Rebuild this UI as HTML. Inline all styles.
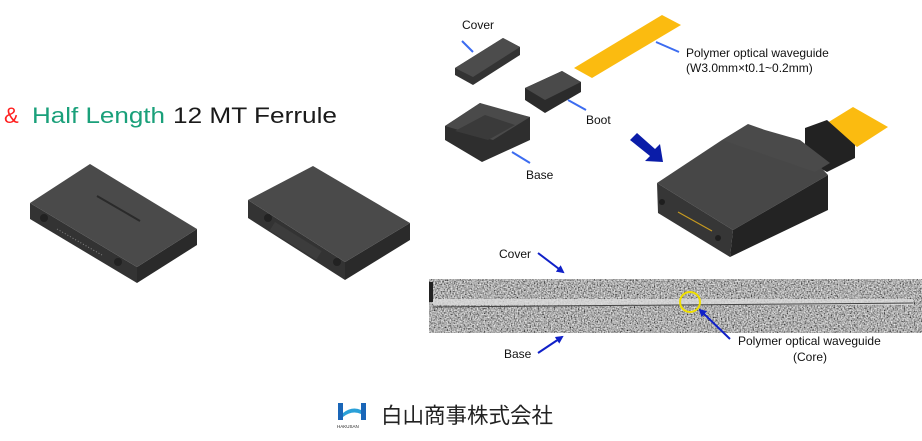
<!DOCTYPE html>
<html><head><meta charset="utf-8"><style>
html,body{margin:0;padding:0;background:#fff;width:922px;height:441px;overflow:hidden}
svg{display:block}
text{font-family:"Liberation Sans",Arial,sans-serif}
</style></head><body>
<svg width="922" height="441" viewBox="0 0 922 441" xmlns="http://www.w3.org/2000/svg">
<defs>
<filter id="n" x="0" y="0" width="100%" height="100%">
<feTurbulence type="fractalNoise" baseFrequency="0.7" numOctaves="2" seed="3"/>
<feColorMatrix type="matrix" values="1.4 0 0 0 -0.28  1.4 0 0 0 -0.28  1.4 0 0 0 -0.28  0 0 0 0 1"/>
</filter>
<marker id="ab" markerWidth="8" markerHeight="8" refX="6" refY="4" orient="auto" markerUnits="userSpaceOnUse"><path d="M0,0 L8,4 L0,8 Z" fill="#1020c8"/></marker>
</defs>

<text x="4" y="123" font-size="22" fill="#ff2020">&amp;</text>
<text x="32" y="123" font-size="22" fill="#1aa07a" textLength="133" lengthAdjust="spacingAndGlyphs">Half Length</text>
<text x="173" y="123" font-size="22" fill="#1a1a1a" textLength="164" lengthAdjust="spacingAndGlyphs">12 MT Ferrule</text>

<!-- ferrule 1 -->
<polygon points="30,203 137,267 137,283 30,219" fill="#333"/>
<polygon points="137,267 197,229 197,245 137,283" fill="#2a2a2a"/>
<polygon points="30,203 90,164 197,229 137,267" fill="#4a4a4a"/>
<circle cx="44" cy="218" r="4" fill="#222"/><circle cx="118" cy="262" r="4" fill="#222"/>
<line x1="57" y1="229" x2="102" y2="255" stroke="#888" stroke-width="1" stroke-dasharray="1,2"/>
<line x1="97" y1="196" x2="140" y2="221" stroke="#2a2a2a" stroke-width="2"/>

<!-- ferrule 2 -->
<polygon points="248,200 345,262 345,280 248,218" fill="#333"/>
<polygon points="345,262 410,223 410,240 345,280" fill="#2a2a2a"/>
<polygon points="248,200 313,166 410,223 345,262" fill="#4a4a4a"/>
<circle cx="268" cy="218" r="4" fill="#222"/><circle cx="337" cy="262" r="4" fill="#222"/>
<rect x="275" y="222" width="55" height="10" fill="#3c3c3c" transform="rotate(32 275 222)"/>

<!-- exploded parts -->
<polygon points="455,68 503,38 520,47 520,55 473,85 455,75" fill="#333"/>
<polygon points="455,68 503,38 520,47 473,77" fill="#4c4c4c"/>
<polygon points="574,68 662,15 681,25 592,78" fill="#fbbb10"/>
<polygon points="525,88 562,71 581,82 581,92 545,113 525,100" fill="#2b2b2b"/>
<polygon points="525,88 562,71 581,82 545,100" fill="#4a4a4a"/>
<polygon points="445,126 480,103 492,108 530,117 530,140 482,162 445,140" fill="#2e2e2e"/>
<polygon points="445,126 480,103 530,117 493,140" fill="#4a4a4a"/>
<polygon points="455,131 485,115 515,125 488,140" fill="#3a3a3a"/>

<text x="462" y="29" font-size="12" fill="#111">Cover</text>
<text x="686" y="57" font-size="12" fill="#111">Polymer optical waveguide</text>
<text x="686" y="72" font-size="12" fill="#111">(W3.0mm×t0.1~0.2mm)</text>
<text x="586" y="124" font-size="12" fill="#111">Boot</text>
<text x="526" y="179" font-size="12" fill="#111">Base</text>
<g stroke="#3c6cf0" stroke-width="2">
<line x1="462" y1="41" x2="473" y2="52"/><line x1="656" y1="42" x2="679" y2="52"/>
<line x1="568" y1="100" x2="586" y2="110"/><line x1="512" y1="152" x2="530" y2="163"/>
</g>
<polygon points="630,140 637,133 655,149 660,144 663,162 645,161 650,156" fill="#0a1ca8"/>

<!-- assembly -->
<polygon points="827,123 853,107 888,127 857,147" fill="#fbbb10"/>
<polygon points="805,128 827,120 855,145 855,158 827,172 805,160" fill="#222"/>
<polygon points="657,183 722,140 798,143 828,175 733,230" fill="#474747"/>
<polygon points="722,140 748,124 765,130 800,140 830,163 815,172" fill="#4a4a4a"/>
<polygon points="657,183 733,230 730,257 658,213" fill="#363636"/>
<polygon points="733,230 828,175 828,210 730,257" fill="#232323"/>
<circle cx="662" cy="202" r="3" fill="#1e1e1e"/><circle cx="718" cy="238" r="3" fill="#1e1e1e"/>
<line x1="678" y1="212" x2="712" y2="231" stroke="#c79a20" stroke-width="1.2"/>

<!-- micrograph -->
<rect x="429" y="279" width="493" height="54" fill="#777"/>
<rect x="429" y="279" width="493" height="54" filter="url(#n)"/>
<rect x="433" y="299" width="480" height="6" fill="#dcdcdc" opacity="0.8"/>
<line x1="433" y1="307" x2="913" y2="303" stroke="#444" stroke-width="1"/>
<rect x="429" y="282" width="4" height="20" fill="#222"/>
<circle cx="690" cy="302" r="10" fill="none" stroke="#f0e000" stroke-width="2"/>

<text x="499" y="258" font-size="12" fill="#111">Cover</text>
<text x="504" y="358" font-size="12" fill="#111">Base</text>
<text x="738" y="345" font-size="12" fill="#111">Polymer optical waveguide</text>
<text x="793" y="361" font-size="12" fill="#111">(Core)</text>
<g stroke="#1020c8" stroke-width="2">
<line x1="538" y1="253" x2="563" y2="272" marker-end="url(#ab)"/>
<line x1="538" y1="353" x2="562" y2="337" marker-end="url(#ab)"/>
<line x1="730" y1="339" x2="700" y2="310" marker-end="url(#ab)"/>
</g>

<!-- logo -->
<rect x="338" y="403" width="5" height="17" fill="#1a66b8"/>
<rect x="361" y="403" width="5" height="17" fill="#1a66b8"/>
<path d="M343,413 Q352,406 361,410 L361,414 Q352,410 343,417 Z" fill="#2aa0d8"/>
<text x="337" y="428" font-size="4.5" fill="#222">HAKUSAN</text>
<text x="381" y="423" font-size="21.5" fill="#222" style="font-family:'Liberation Sans','Noto Sans CJK JP',sans-serif">白山商事株式会社</text>
</svg>
</body></html>
